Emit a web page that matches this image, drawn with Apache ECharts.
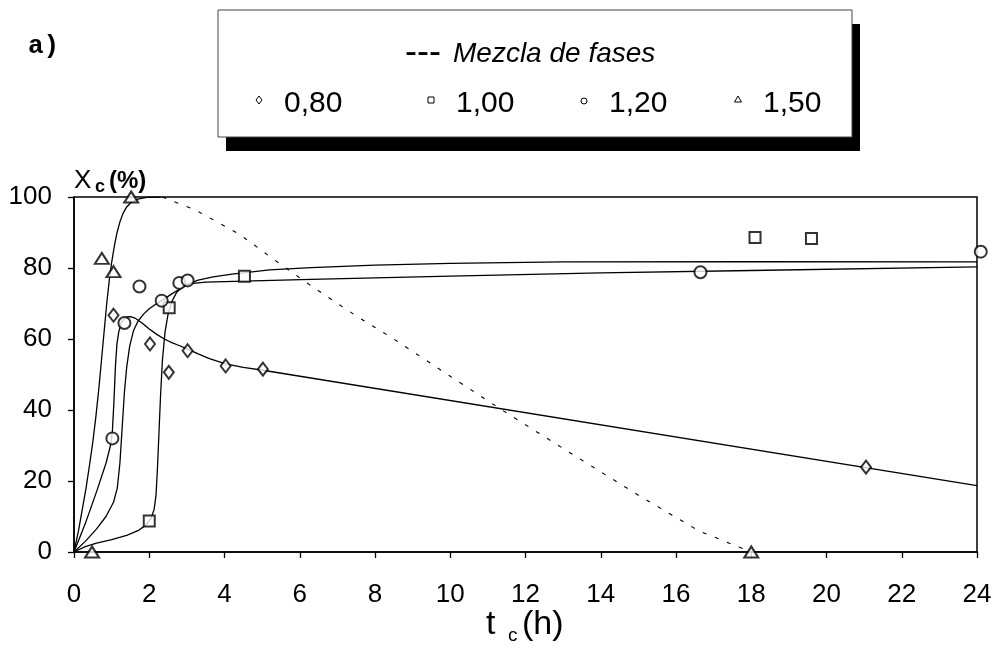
<!DOCTYPE html>
<html>
<head>
<meta charset="utf-8">
<script src="https://cdn.jsdelivr.net/npm/echarts@6/dist/echarts.min.js"></script>
<style>
html,body{margin:0;padding:0;background:#fff;}
#c{width:1001px;height:652px;}
</style>
</head>
<body>
<div id="c"></div>
<script>
// ---- tick labels ----
const xTicks = [0,2,4,6,8,10,12,14,16,18,20,22,24];
const yTicks = [0,20,40,60,80,100];
const legendLabels = ['0,80','1,00','1,20','1,50'];
const dashedLabel = 'Mezcla de fases';

// ---- measured points (t_c h, X_c %) ----
const pts080 = [[1.05,66.7],[2.02,58.6],[2.52,50.6],[3.02,56.7],[4.03,52.4],[5.02,51.5],[21.05,23.9]];
const pts100 = [[2.0,8.7],[2.53,68.8],[4.53,77.7],[18.1,88.6],[19.6,88.3]];
const pts120 = [[1.02,32],[1.34,64.5],[1.74,74.8],[2.33,70.8],[2.8,75.8],[3.02,76.5],[16.65,78.8],[24.1,84.6]];
const pts150 = [[0.48,0],[0.74,82.7],[1.05,79],[1.52,100],[18.0,0]];

// ---- fitted curves ----
const fit080 = [[0,0],[0.3,8],[0.6,17],[0.85,25],[0.97,30],[1.02,34],[1.06,42],[1.1,52],[1.14,58.5],[1.19,62],[1.25,64.3],[1.32,65.6],[1.4,66.2],[1.5,66.3],[1.62,65.9],[1.8,64.6],[2.0,62.8],[2.2,61.3],[2.4,60],[2.6,59],[2.81,58.1],[3.05,57],[3.3,55.8],[3.6,54.5],[4.03,53],[4.5,52],[5.02,51.2],[24,18.7]];
const fit100 = [[0,0],[0.3,1.5],[0.6,2.5],[1.0,3.5],[1.4,4.7],[1.7,6],[1.9,7.5],[2.05,9.5],[2.13,12],[2.18,16],[2.22,24],[2.26,34],[2.3,44],[2.35,54],[2.42,62],[2.5,67],[2.6,70.5],[2.73,73.2],[2.9,74.8],[3.1,75.6],[3.5,76],[4.5,76.3],[6.3,76.8],[10,77.7],[14,78.6],[18,79.3],[24,80.3]];
const fit120 = [[0,0],[0.3,3],[0.6,6.5],[0.85,10],[1.05,14],[1.15,18],[1.22,25],[1.28,35],[1.34,45],[1.4,52],[1.48,58],[1.58,62.3],[1.7,65],[1.85,67],[2.0,68.5],[2.2,70],[2.4,71.3],[2.6,72.7],[2.8,74],[3.0,75.3],[3.3,76.6],[3.7,77.5],[4.2,78.3],[5.2,79.5],[6.3,80.1],[8,80.8],[10,81.3],[13,81.7],[18,81.8],[24,81.7]];
const fit150 = [[0,0],[0.12,6],[0.22,12],[0.32,18],[0.42,25],[0.5,31],[0.58,38],[0.66,46],[0.73,54],[0.8,62],[0.87,70],[0.94,76.8],[1.0,81.5],[1.07,86],[1.14,89.8],[1.22,93],[1.3,95.3],[1.4,97.2],[1.52,98.5],[1.7,99.4],[1.93,99.9],[2.3,100]];
const fitMezcla = [[2.35,100],[2.7,98.5],[3.2,96.5],[3.8,93],[4.4,89.5],[5.3,82.5],[6.3,75],[7.5,66.5],[8.5,60],[10,49.5],[11.3,40.5],[13.1,28.5],[15,16],[16.6,6],[18,0]];

const chart = echarts.init(document.getElementById('c'), null, {renderer:'canvas'});
const FONT = '"Liberation Sans", Arial, Helvetica, sans-serif';
const fitStyle = {color:'#000', width:1.3};
function fitSeries(name, data){
  return {type:'line', name:name, data:data, smooth:false, showSymbol:false, symbol:'none',
    lineStyle:fitStyle, silent:true, z:2};
}
function ptSeries(name, data, sym, size){
  return {type:'scatter', name:name, data:data, symbol:sym, symbolSize:size, clip:false,
    itemStyle:{color:'#000', borderWidth:1.6}, z:5};
}

// legend box layout
const boxX = 218, boxY = 10, boxW = 634, boxH = 127, shadow = 8;
const legMarkX = [259, 431, 584, 738];
const legendGraphics = [];
legendGraphics.push({type:'rect', shape:{x:boxX+shadow, y:boxY+14, width:boxW, height:boxH}, style:{fill:'#000'}, z:10});
legendGraphics.push({type:'rect', shape:{x:boxX, y:boxY, width:boxW, height:boxH}, style:{fill:'#fff', stroke:'#444', lineWidth:1}, z:11});
legendGraphics.push({type:'text', x:405, y:53, style:{text:'---', font:'36px '+FONT, fill:'#000', textVerticalAlign:'middle'}, z:12});
legendGraphics.push({type:'text', x:453, y:54, style:{text:dashedLabel, font:'italic 28px '+FONT, fill:'#000', textVerticalAlign:'middle'}, z:12});
legendLabels.forEach((lab,i)=>{
  legendGraphics.push({type:'text', x:legMarkX[i]+25, y:104, style:{text:lab, font:'30px '+FONT, fill:'#000', textVerticalAlign:'middle'}, z:12});
});
// legend symbols (one per series, same shapes as the markers)
const ls = {fill:'#fff', stroke:'#000', lineWidth:1};
legendGraphics.push({type:'polygon', z:12, shape:{points:[[legMarkX[0],96],[legMarkX[0]+3,100],[legMarkX[0],104],[legMarkX[0]-3,100]]}, style:ls});
legendGraphics.push({type:'rect', z:12, shape:{x:legMarkX[1]-3, y:97, width:6, height:6}, style:ls});
legendGraphics.push({type:'circle', z:12, shape:{cx:legMarkX[2], cy:101, r:3}, style:ls});
legendGraphics.push({type:'polygon', z:12, shape:{points:[[legMarkX[3],96],[legMarkX[3]+3.5,102],[legMarkX[3]-3.5,102]]}, style:ls});

const option = {
  backgroundColor:'#fff',
  animation:false,
  grid:{left:74, right:24, top:197, bottom:100, show:true, borderColor:'#000', borderWidth:1.5},
  xAxis:{type:'value', min:0, max:24, interval:2,
    axisLine:{show:true, lineStyle:{color:'#000', width:1.5}},
    axisTick:{show:true, inside:false, length:6, lineStyle:{color:'#000', width:1.3}},
    axisLabel:{color:'#000', fontSize:26, fontFamily:FONT, margin:30},
    splitLine:{show:false}},
  yAxis:{type:'value', min:0, max:100, interval:20,
    axisLine:{show:true, lineStyle:{color:'#000', width:1.5}},
    axisTick:{show:true, inside:false, length:6, lineStyle:{color:'#000', width:1.3}},
    axisLabel:{color:'#000', fontSize:26, fontFamily:FONT, margin:22},
    splitLine:{show:false}},
  series:[
    fitSeries('fit 0,80', fit080),
    fitSeries('fit 1,00', fit100),
    fitSeries('fit 1,20', fit120),
    fitSeries('fit 1,50', fit150),
    {type:'line', name:dashedLabel, data:fitMezcla, smooth:false, showSymbol:false, symbol:'none',
      lineStyle:{color:'#000', width:1.1, type:[4,9]}, z:2},
    ptSeries(legendLabels[0], pts080, 'emptyDiamond', [10,13]),
    ptSeries(legendLabels[1], pts100, 'emptyRect', 11),
    ptSeries(legendLabels[2], pts120, 'emptyCircle', 12),
    ptSeries(legendLabels[3], pts150, 'emptyTriangle', [14,11])
  ],
  graphic:[
    {type:'text', x:28, y:33, style:{text:'a)', font:'bold 26px "Liberation Mono", "DejaVu Sans Mono", monospace', fill:'#000'}},
    {type:'text', x:74, y:168, style:{text:'X', font:'26px '+FONT, fill:'#000'}},
    {type:'text', x:95, y:178, style:{text:'c', font:'bold 18px '+FONT, fill:'#000'}},
    {type:'text', x:109, y:169, style:{text:'(%)', font:'bold 24px '+FONT, fill:'#000'}},
    {type:'text', x:486, y:608, style:{text:'t', font:'34px '+FONT, fill:'#000'}},
    {type:'text', x:508, y:626, style:{text:'c', font:'19px '+FONT, fill:'#000'}},
    {type:'text', x:522, y:608, style:{text:'(h)', font:'34px '+FONT, fill:'#000'}}
  ].concat(legendGraphics)
};
chart.setOption(option);
</script>
</body>
</html>
